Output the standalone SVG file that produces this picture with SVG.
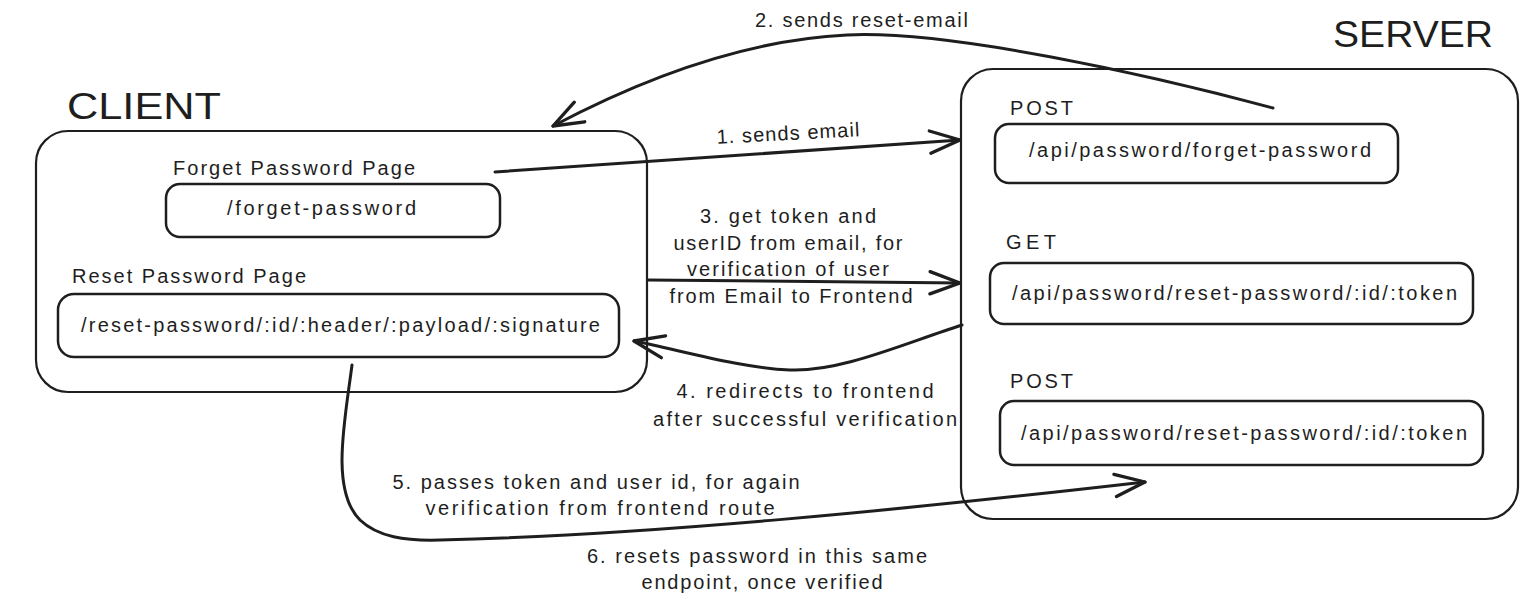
<svg xmlns="http://www.w3.org/2000/svg" width="1539" height="616" viewBox="0 0 1539 616">
  <style>
    .box { fill: none; stroke: #1e1e1e; stroke-width: 2.5; }
    .outer { fill: none; stroke: #1e1e1e; stroke-width: 2.2; }
    .t { font-family: "Liberation Sans", Arial, sans-serif; font-size: 20px; fill: #1e1e1e; }
    .title { font-family: "Liberation Sans", Arial, sans-serif; font-size: 36px; fill: #1e1e1e; }
    .mid { text-anchor: middle; }
    .edge { fill: none; stroke: #1e1e1e; stroke-width: 3; stroke-linecap: round; stroke-linejoin: round; }
  </style>
  <defs>
    <marker id="arr" markerUnits="userSpaceOnUse" markerWidth="40" markerHeight="40" refX="0" refY="0" viewBox="-32 -16 36 32" orient="auto" overflow="visible">
      <path d="M -27 -10 L 0 0 L -27 10" fill="none" stroke="#1e1e1e" stroke-width="3" stroke-linecap="round" stroke-linejoin="round"/>
    </marker>
  </defs>
  <rect width="1539" height="616" fill="#ffffff"/>

  <g id="client">
    <text class="title" x="67" y="119" textLength="154" lengthAdjust="spacingAndGlyphs">CLIENT</text>
    <rect class="outer" x="36" y="131" width="611" height="261" rx="32"/>
  </g>
  <g id="forget-page">
    <text class="t" x="173" y="175" textLength="242" lengthAdjust="spacing">Forget Password Page</text>
    <rect class="box" x="166" y="184" width="334" height="53" rx="14"/>
    <text class="t" x="227" y="215" textLength="189" lengthAdjust="spacing">/forget-password</text>
  </g>
  <g id="reset-page">
    <text class="t" x="72" y="283" textLength="234" lengthAdjust="spacing">Reset Password Page</text>
    <rect class="box" x="58" y="294" width="561" height="63" rx="16"/>
    <text class="t" x="81" y="332" textLength="519" lengthAdjust="spacing">/reset-password/:id/:header/:payload/:signature</text>
  </g>

  <g id="server">
    <text class="title" x="1333" y="47" font-size="38" textLength="160" lengthAdjust="spacingAndGlyphs">SERVER</text>
    <rect class="outer" x="961" y="69" width="557" height="450" rx="32"/>
  </g>
  <g id="api-forget">
    <text class="t" x="1010" y="115" textLength="63" lengthAdjust="spacing">POST</text>
    <rect class="box" x="995" y="124" width="403" height="59" rx="14"/>
    <text class="t" x="1029" y="157" textLength="342" lengthAdjust="spacing">/api/password/forget-password</text>
  </g>
  <g id="api-reset-get">
    <text class="t" x="1006" y="249" textLength="50" lengthAdjust="spacing">GET</text>
    <rect class="box" x="990" y="263" width="483" height="61" rx="14"/>
    <text class="t" x="1012" y="300" textLength="445" lengthAdjust="spacing">/api/password/reset-password/:id/:token</text>
  </g>
  <g id="api-reset-post">
    <text class="t" x="1010" y="388" textLength="63" lengthAdjust="spacing">POST</text>
    <rect class="box" x="1000" y="401" width="483" height="64" rx="14"/>
    <text class="t" x="1021" y="440" textLength="446" lengthAdjust="spacing">/api/password/reset-password/:id/:token</text>
  </g>

  <g id="connectors">
    <path class="edge" d="M 495 172 L 960 140" marker-end="url(#arr)"/>
    <text class="t" x="788" y="140" textLength="143" lengthAdjust="spacing" text-anchor="middle" transform="rotate(-3 788 134)">1. sends email</text>

    <path class="edge" d="M 1273 108 C 1150 75, 950 30, 847 35 S 640 80, 553 126" marker-end="url(#arr)"/>
    <text class="t" x="755" y="27" textLength="213" lengthAdjust="spacing">2. sends reset-email</text>

    <path class="edge" d="M 648 280 L 960 283" marker-end="url(#arr)"/>
    <text class="t mid" x="788" y="223" textLength="176" lengthAdjust="spacing">3. get token and</text>
    <text class="t mid" x="788" y="250" textLength="229" lengthAdjust="spacing">userID from email, for</text>
    <text class="t mid" x="788" y="276" textLength="202" lengthAdjust="spacing">verification of user</text>
    <text class="t mid" x="791" y="303" textLength="243" lengthAdjust="spacing">from Email to Frontend</text>

    <path class="edge" d="M 962 325 C 900 345, 840 372, 790 370 S 680 350, 634 341" marker-end="url(#arr)"/>
    <text class="t mid" x="805" y="398" textLength="257" lengthAdjust="spacing">4. redirects to frontend</text>
    <text class="t mid" x="805" y="426" textLength="304" lengthAdjust="spacing">after successful verification</text>

    <path class="edge" d="M 352 365 C 345 420, 330 490, 360 520 C 378 537, 405 541, 440 540 C 650 535, 900 510, 1145 482" marker-end="url(#arr)"/>
    <text class="t mid" x="596" y="489" textLength="407" lengthAdjust="spacing">5. passes token and user id, for again</text>
    <text class="t mid" x="600" y="515" textLength="349" lengthAdjust="spacing">verification from frontend route</text>

    <text class="t mid" x="757" y="563" textLength="340" lengthAdjust="spacing">6. resets password in this same</text>
    <text class="t mid" x="762" y="589" textLength="241" lengthAdjust="spacing">endpoint, once verified</text>
  </g>
</svg>
